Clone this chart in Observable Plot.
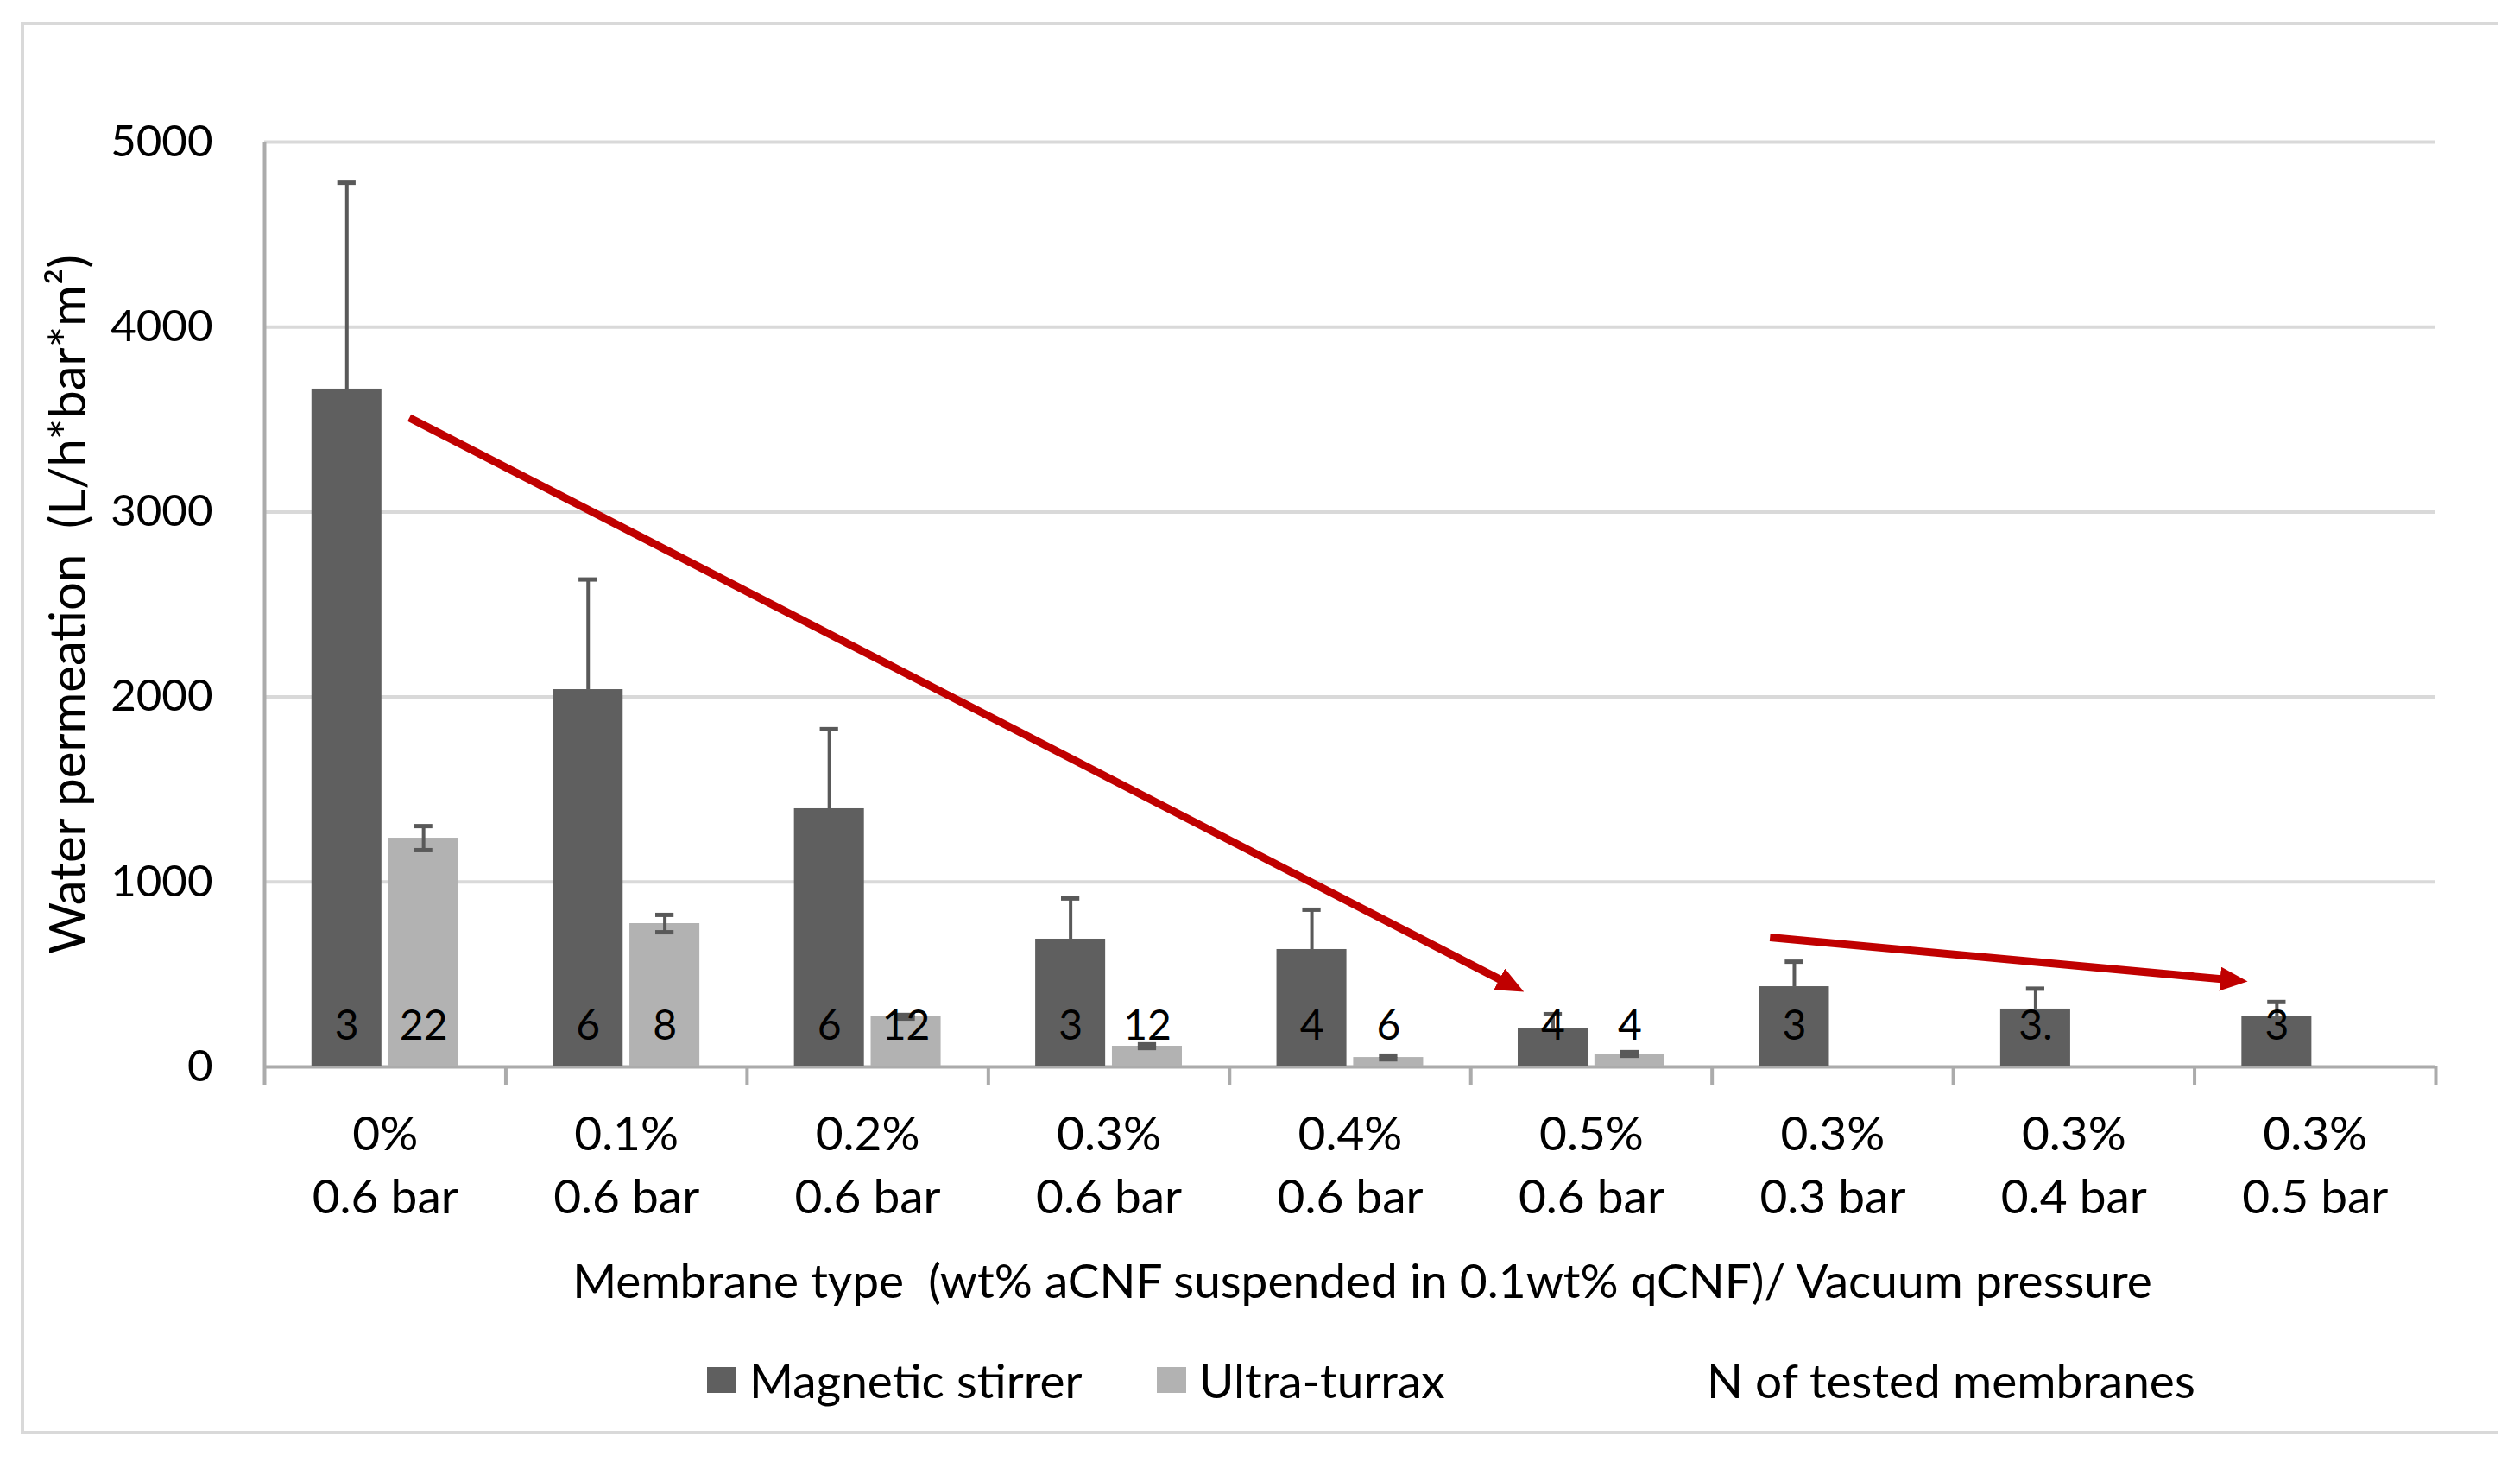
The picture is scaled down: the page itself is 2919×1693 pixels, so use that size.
<!DOCTYPE html>
<html>
<head>
<meta charset="utf-8">
<script src="https://cdn.jsdelivr.net/npm/d3@7"></script>
<script src="https://cdn.jsdelivr.net/npm/@observablehq/plot@0.6"></script>
<style>
  html, body { margin: 0; padding: 0; background: #fff; }
  body { width: 2919px; height: 1693px; position: relative; overflow: hidden; font-family: Lato, sans-serif; }
  #frame { position: absolute; left: 24px; top: 25px; width: 2870px; height: 1636px;
           border: 4px solid #D9D9D9; border-right: none; box-sizing: border-box; }
  #chart { position: absolute; left: 0; top: 0; }
  #chart svg text { white-space: pre; }
  #legend { position: absolute; top: 1573px; left: 0; width: 2919px; height: 50px; font-size: 55px; color: #000; }
  .item { position: absolute; top: 0; height: 50px; display: flex; align-items: center; white-space: nowrap; }
  .sw { width: 34px; height: 30px; margin-right: 15px; }
</style>
</head>
<body>
<div id="frame"></div>
<div id="chart"></div>
<div id="legend"></div>
<script>
// ---- data ----
const categories = ["0%", "0.1%", "0.2%", "0.3%", "0.4%", "0.5%", "0.3%", "0.3%", "0.3%"];
const pressures  = ["0.6 bar", "0.6 bar", "0.6 bar", "0.6 bar", "0.6 bar", "0.6 bar", "0.3 bar", "0.4 bar", "0.5 bar"];
const magnetic    = [3665, 2040, 1396, 691, 635, 210, 434, 313, 271];
const magneticErr = [1115, 595, 430, 220, 215, 75, 135, 110, 80];
const turrax      = [1237, 775, 271, 112, 51, 70, null, null, null];
const turraxErr   = [65, 47, 10, 10, 10, 10, null, null, null];
const nMagnetic   = ["3", "6", "6", "3", "4", "4", "3", "3.", "3"];
const nTurrax     = ["22", "8", "12", "12", "6", "4", null, null, null];
const yTicks      = [0, 1000, 2000, 3000, 4000, 5000];
// trend arrows (x in category-index units, y in L/h*bar*m2)
const trendArrows = [
  {x1: 0.60, y1: 3510, x2: 5.22, y2: 406},
  {x1: 6.24, y1: 700,  x2: 8.22, y2: 462}
];
const seriesNames = ["Magnetic stirrer", "Ultra-turrax", "N of tested membranes"];
const yTitle = "Water permeation  (L/h*bar*m²)";
const xTitle = "Membrane type  (wt% aCNF suspended in 0.1wt% qCNF)/ Vacuum pressure";

// ---- layout / style constants ----
const DARK = "#5F5F5F", LIGHT = "#B2B2B2", ERR = "#595959", AXIS = "#ABABAB", GRID = "#D9D9D9", RED = "#C00000";
const D0 = 0.196, D1 = 0.486, L0 = 0.514, L1 = 0.804;
const DC = (D0 + D1) / 2, LC = (L0 + L1) / 2, CAP = 0.038;
const FS_N = 48, FS_Y = 51, FS_X = 55, FS_TITLE = 55, FS_YTITLE = 58;

const idx = d3.range(categories.length);
const magRows = idx.map(i => ({i, v: magnetic[i], e: magneticErr[i], n: nMagnetic[i]}));
const turRows = idx.filter(i => turrax[i] != null).map(i => ({i, v: turrax[i], e: turraxErr[i], n: nTurrax[i]}));
const turCaps = turRows.flatMap(d => [{i: d.i, y: d.v - d.e}, {i: d.i, y: d.v + d.e}]);

const H = 1560;
const plot = Plot.plot({
  width: 2919,
  height: H,
  marginLeft: 306,
  marginRight: 98,
  marginTop: 164,
  marginBottom: H - 1235,
  style: {fontFamily: "Lato, sans-serif", fontSize: FS_N + "px", color: "#000", background: "transparent", overflow: "visible"},
  x: {type: "linear", domain: [0, categories.length]},
  y: {type: "linear", domain: [0, 5000]},
  marks: [
    Plot.gridY(yTicks.filter(t => t > 0), {stroke: GRID, strokeWidth: 4, strokeOpacity: 1}),
    Plot.ruleX([0], {y1: 0, y2: 5000, stroke: AXIS, strokeWidth: 4}),
    Plot.axisX({ticks: d3.range(0, categories.length + 1), tickSize: 22, tickFormat: () => "", label: null, stroke: AXIS, strokeWidth: 4}),
    Plot.axisY({ticks: yTicks, tickSize: 0, tickPadding: 60, label: null, fontSize: FS_Y, tickFormat: d => String(d)}),
    Plot.ruleY([0], {stroke: AXIS, strokeWidth: 4}),
    // bars
    Plot.rect(magRows, {x1: d => d.i + D0, x2: d => d.i + D1, y1: 0, y2: "v", fill: DARK}),
    Plot.rect(turRows, {x1: d => d.i + L0, x2: d => d.i + L1, y1: 0, y2: "v", fill: LIGHT}),
    // error bars
    Plot.ruleX(magRows, {x: d => d.i + DC, y1: "v", y2: d => d.v + d.e, stroke: ERR, strokeWidth: 4}),
    Plot.ruleY(magRows, {x1: d => d.i + DC - CAP, x2: d => d.i + DC + CAP, y: d => d.v + d.e, stroke: ERR, strokeWidth: 5}),
    Plot.ruleX(turRows, {x: d => d.i + LC, y1: d => d.v - d.e, y2: d => d.v + d.e, stroke: ERR, strokeWidth: 4}),
    Plot.ruleY(turCaps, {x1: d => d.i + LC - CAP, x2: d => d.i + LC + CAP, y: "y", stroke: ERR, strokeWidth: 5}),
    // N labels
    Plot.text(magRows, {x: d => d.i + DC, y: 0, text: "n", dy: -47, fontSize: FS_N, fill: "#000"}),
    Plot.text(turRows, {x: d => d.i + LC, y: 0, text: "n", dy: -47, fontSize: FS_N, fill: "#000"}),
    // category labels
    Plot.text(idx, {x: i => i + 0.5, y: 0, text: i => categories[i] + "\n" + pressures[i], dy: 110, lineHeight: 1.33, fontSize: FS_X, fill: "#000"}),
    // axis titles
    Plot.text([xTitle], {frameAnchor: "bottom", text: d => d, dy: 267, dx: 14, fontSize: FS_TITLE, fill: "#000"}),
    Plot.text([yTitle], {frameAnchor: "left", textAnchor: "middle", text: d => d, rotate: -90, dx: -(306 - 80), fontSize: FS_YTITLE, fill: "#000"}),
    // trend arrows
    Plot.link(trendArrows, {x1: "x1", y1: "y1", x2: "x2", y2: "y2", stroke: RED, strokeWidth: 9, strokeLinecap: "butt"})
  ]
});
document.getElementById("chart").appendChild(plot);

// filled arrow heads for the trend links
const svg = d3.select(plot);
const defs = svg.insert("defs", ":first-child");
defs.append("marker")
  .attr("id", "redhead")
  .attr("viewBox", "0 0 32 28")
  .attr("refX", 32).attr("refY", 14)
  .attr("markerWidth", 32).attr("markerHeight", 28)
  .attr("markerUnits", "userSpaceOnUse")
  .attr("orient", "auto")
  .append("path").attr("d", "M0,0L32,14L0,28Z").attr("fill", RED);
svg.selectAll('g[aria-label="link"] path').each(function() {
  const len = this.getTotalLength();
  this.setAttribute("stroke-dasharray", `${Math.max(0, len - 14)} ${len + 20}`);
  this.setAttribute("marker-end", "url(#redhead)");
});

// legend (HTML, below the plot)
const legend = document.getElementById("legend");
const legendItems = [
  {name: seriesNames[0], color: DARK, left: 819},
  {name: seriesNames[1], color: LIGHT, left: 1340},
  {name: seriesNames[2], color: null, left: 1977}
];
for (const it of legendItems) {
  const div = document.createElement("div");
  div.className = "item";
  div.style.left = it.left + "px";
  if (it.color) {
    const sw = document.createElement("span");
    sw.className = "sw";
    sw.style.background = it.color;
    div.appendChild(sw);
  }
  const t = document.createElement("span");
  t.textContent = it.name;
  div.appendChild(t);
  legend.appendChild(div);
}
</script>
</body>
</html>
